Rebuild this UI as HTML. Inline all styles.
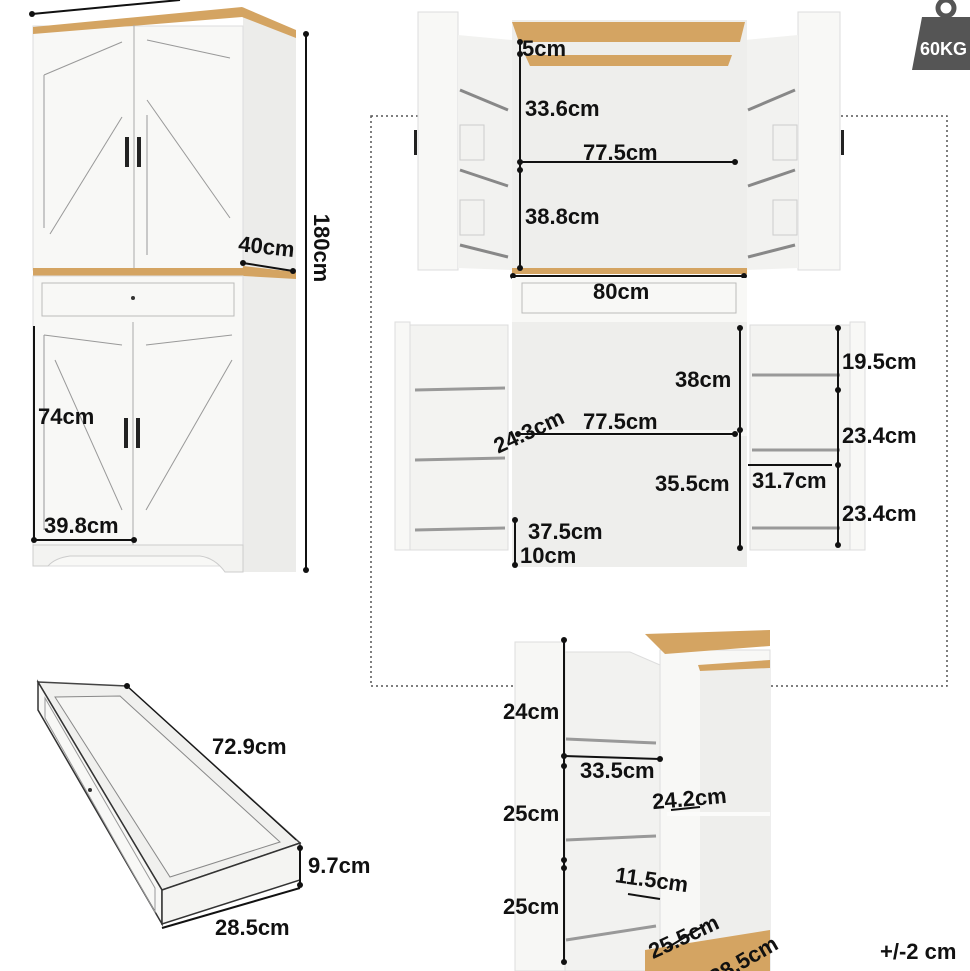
<!DOCTYPE html>
<html><head><meta charset="utf-8"><style>
html,body{margin:0;padding:0;background:#fff;width:970px;height:971px;overflow:hidden}
svg{display:block}
text{font-family:"Liberation Sans",sans-serif;font-weight:bold;font-size:22px;fill:#111}
</style></head><body>
<svg width="970" height="971" viewBox="0 0 970 971" xmlns="http://www.w3.org/2000/svg">
<defs>
<g id="dot"><circle r="3" fill="#111"/></g>
</defs>
<rect x="371" y="116" width="576" height="570" fill="none" stroke="#555" stroke-width="1.5" stroke-dasharray="2,3"/>

<!-- LEFT CABINET -->
<polygon points="243,7 296,36 296,270 243,268" fill="#ececea"/>
<polygon points="243,270 296,277 296,572 243,572" fill="#ececea"/>
<rect x="33" y="26" width="210" height="244" fill="#f8f8f6" stroke="#ddd"/>
<polygon points="33,27 242,7 242,17 33,34" fill="#d4a462"/>
<polygon points="242,7 296,30 296,38 242,17" fill="#d4a462"/>
<line x1="134" y1="25" x2="134" y2="268" stroke="#aaa"/>
<line x1="44" y1="75" x2="44" y2="228" stroke="#999"/>
<line x1="44" y1="75" x2="122" y2="42" stroke="#999"/>
<line x1="50" y1="234" x2="122" y2="117" stroke="#999"/>
<line x1="147" y1="40" x2="230" y2="58" stroke="#999"/>
<line x1="147" y1="100" x2="230" y2="218" stroke="#999"/>
<line x1="147" y1="115" x2="147" y2="255" stroke="#999"/>
<rect x="125" y="137" width="4" height="30" fill="#222"/>
<rect x="137" y="137" width="4" height="30" fill="#222"/>
<rect x="33" y="268" width="210" height="8" fill="#d4a462"/>
<polygon points="243,266 296,272 296,279 243,276" fill="#d4a462"/>
<rect x="33" y="276" width="210" height="290" fill="#f8f8f6" stroke="#ddd"/>
<rect x="42" y="283" width="192" height="33" fill="none" stroke="#bbb"/>
<circle cx="133" cy="298" r="2" fill="#333"/>
<line x1="133" y1="322" x2="133" y2="545" stroke="#aaa"/>
<line x1="44" y1="335" x2="44" y2="530" stroke="#999"/>
<line x1="44" y1="335" x2="122" y2="345" stroke="#999"/>
<line x1="55" y1="360" x2="122" y2="510" stroke="#999"/>
<line x1="146" y1="345" x2="232" y2="335" stroke="#999"/>
<line x1="146" y1="510" x2="232" y2="360" stroke="#999"/>
<rect x="124" y="418" width="4" height="30" fill="#222"/>
<rect x="136" y="418" width="4" height="30" fill="#222"/>
<path d="M33 545 H243 V572 H225 Q215 558 200 556 H70 Q55 558 48 566 H33 Z" fill="#f3f3f1" stroke="#ccc"/>
<line x1="32" y1="14" x2="180" y2="0" stroke="#111" stroke-width="2"/><use href="#dot" x="32" y="14"/>
<line x1="306" y1="34" x2="306" y2="570" stroke="#111" stroke-width="2"/><use href="#dot" x="306" y="34"/><use href="#dot" x="306" y="570"/>
<text x="312" y="250" transform="rotate(90 314 250)" text-anchor="middle">180cm</text>
<line x1="243" y1="263" x2="293" y2="271" stroke="#111" stroke-width="2"/><use href="#dot" x="243" y="263"/><use href="#dot" x="293" y="271"/>
<text x="238" y="254" transform="rotate(6 265 250)">40cm</text>
<line x1="34" y1="326" x2="34" y2="540" stroke="#111" stroke-width="2"/>
<text x="38" y="424">74cm</text>
<line x1="34" y1="540" x2="134" y2="540" stroke="#111" stroke-width="2"/><use href="#dot" x="34" y="540"/><use href="#dot" x="134" y="540"/>
<text x="44" y="533">39.8cm</text>

<!-- TOP RIGHT OPEN CABINET -->
<rect x="418" y="12" width="40" height="258" fill="#f8f8f6" stroke="#ddd"/>
<polygon points="458,35 512,40 512,270 458,268" fill="#f2f2f0"/>
<rect x="798" y="12" width="42" height="258" fill="#f8f8f6" stroke="#ddd"/>
<polygon points="745,40 798,35 798,268 745,270" fill="#f2f2f0"/>
<rect x="512" y="20" width="235" height="250" fill="#eeeeec"/>
<polygon points="512,22 745,22 740,42 519,42" fill="#d4a462"/>
<polygon points="525,55 732,55 728,66 530,66" fill="#d4a462"/>
<g stroke="#888" stroke-width="3">
<line x1="460" y1="90" x2="508" y2="110"/><line x1="460" y1="170" x2="508" y2="186"/><line x1="460" y1="245" x2="508" y2="257"/>
<line x1="795" y1="90" x2="748" y2="110"/><line x1="795" y1="170" x2="748" y2="186"/><line x1="795" y1="245" x2="748" y2="257"/>
</g>
<g stroke="#ccc" fill="none">
<rect x="460" y="125" width="24" height="35"/><rect x="460" y="200" width="24" height="35"/>
<rect x="773" y="125" width="24" height="35"/><rect x="773" y="200" width="24" height="35"/>
</g>
<rect x="414" y="130" width="3" height="25" fill="#222"/><rect x="841" y="130" width="3" height="25" fill="#222"/>
<rect x="512" y="268" width="235" height="6" fill="#d4a462"/>
<line x1="520" y1="42" x2="520" y2="268" stroke="#111" stroke-width="2"/>
<use href="#dot" x="520" y="42"/><use href="#dot" x="520" y="54"/><use href="#dot" x="520" y="162"/><use href="#dot" x="520" y="170"/><use href="#dot" x="520" y="268"/>
<line x1="520" y1="162" x2="735" y2="162" stroke="#111" stroke-width="2"/><use href="#dot" x="735" y="162"/>
<text x="522" y="56">5cm</text>
<text x="525" y="116">33.6cm</text>
<text x="583" y="160">77.5cm</text>
<text x="525" y="224">38.8cm</text>
<line x1="513" y1="276" x2="744" y2="276" stroke="#111" stroke-width="2"/><use href="#dot" x="513" y="276"/><use href="#dot" x="744" y="276"/>
<rect x="512" y="278" width="235" height="44" fill="#f8f8f6"/>
<rect x="522" y="283" width="214" height="30" fill="none" stroke="#bbb"/>
<text x="593" y="299">80cm</text>

<!-- MIDDLE LOWER OPEN CABINET -->
<rect x="395" y="322" width="15" height="228" fill="#f8f8f6" stroke="#ddd"/>
<rect x="410" y="325" width="98" height="225" fill="#f3f3f1" stroke="#ddd"/>
<rect x="850" y="322" width="15" height="228" fill="#f8f8f6" stroke="#ddd"/>
<rect x="750" y="325" width="100" height="225" fill="#f3f3f1" stroke="#ddd"/>
<rect x="512" y="322" width="235" height="245" fill="#eeeeec"/>
<rect x="512" y="430" width="235" height="6" fill="#f7f7f5"/>
<g stroke="#999" stroke-width="3">
<line x1="415" y1="390" x2="505" y2="388"/><line x1="415" y1="460" x2="505" y2="458"/><line x1="415" y1="530" x2="505" y2="528"/>
<line x1="752" y1="375" x2="840" y2="375"/><line x1="752" y1="450" x2="840" y2="450"/><line x1="752" y1="528" x2="840" y2="528"/>
</g>
<line x1="518" y1="434" x2="735" y2="434" stroke="#111" stroke-width="2"/><use href="#dot" x="518" y="434"/><use href="#dot" x="735" y="434"/>
<line x1="740" y1="328" x2="740" y2="548" stroke="#111" stroke-width="2"/><use href="#dot" x="740" y="328"/><use href="#dot" x="740" y="430"/><use href="#dot" x="740" y="548"/>
<line x1="838" y1="328" x2="838" y2="545" stroke="#111" stroke-width="2"/><use href="#dot" x="838" y="328"/><use href="#dot" x="838" y="390"/><use href="#dot" x="838" y="465"/><use href="#dot" x="838" y="545"/>
<line x1="748" y1="465" x2="832" y2="465" stroke="#111" stroke-width="2"/>
<line x1="515" y1="520" x2="515" y2="565" stroke="#111" stroke-width="2"/><use href="#dot" x="515" y="520"/><use href="#dot" x="515" y="565"/>
<text x="488" y="442" transform="rotate(-25 520 425)">24.3cm</text>
<text x="583" y="429">77.5cm</text>
<text x="675" y="387">38cm</text>
<text x="655" y="491">35.5cm</text>
<text x="752" y="488">31.7cm</text>
<text x="842" y="369">19.5cm</text>
<text x="842" y="443">23.4cm</text>
<text x="842" y="521">23.4cm</text>
<text x="528" y="539">37.5cm</text>
<text x="520" y="563">10cm</text>

<!-- WEIGHT -->
<circle cx="946" cy="8" r="8" fill="none" stroke="#555" stroke-width="5"/>
<polygon points="922,17 970,17 970,70 912,70" fill="#555"/>
<text x="920" y="55" style="fill:#fff;font-size:18px">60KG</text>

<!-- DRAWER -->
<polygon points="38,682 127,686 300,843 162,890" fill="#f0f0ee" stroke="#444" stroke-width="1.5"/>
<polygon points="55,697 120,696 280,842 170,877" fill="#f6f6f4" stroke="#888"/>
<polygon points="38,682 162,890 162,924 38,710" fill="#f8f8f6" stroke="#333" stroke-width="1.5"/>
<polygon points="45,698 155,888 155,912 45,718" fill="none" stroke="#999"/>
<polygon points="162,890 300,843 300,880 162,924" fill="#f4f4f2" stroke="#333" stroke-width="1.5"/>
<circle cx="90" cy="790" r="2" fill="#333"/>
<line x1="127" y1="686" x2="296" y2="840" stroke="#111" stroke-width="1"/>
<use href="#dot" x="127" y="686"/>
<text x="212" y="754">72.9cm</text>
<line x1="300" y1="848" x2="300" y2="885" stroke="#111" stroke-width="2"/><use href="#dot" x="300" y="848"/><use href="#dot" x="300" y="885"/>
<text x="308" y="873">9.7cm</text>
<line x1="162" y1="928" x2="300" y2="888" stroke="#111" stroke-width="2"/>
<text x="215" y="935">28.5cm</text>

<!-- BOTTOM SIDE VIEW -->
<rect x="515" y="642" width="50" height="329" fill="#f7f7f5" stroke="#ddd"/>
<polygon points="565,652 630,652 660,665 660,971 565,971" fill="#f2f2f0" stroke="#ddd"/>
<rect x="660" y="650" width="110" height="321" fill="#f8f8f6" stroke="#ddd"/>
<rect x="700" y="668" width="70" height="303" fill="#eeeeec"/>
<polygon points="645,634 770,630 770,646 665,654" fill="#d4a462"/>
<polygon points="698,665 770,660 770,668 700,671" fill="#d4a462"/>
<rect x="667" y="812" width="103" height="4" fill="#fbfbfa"/>
<polygon points="645,950 770,930 770,971 645,971" fill="#d4a462"/>
<g stroke="#999" stroke-width="3">
<line x1="566" y1="739" x2="656" y2="743"/><line x1="566" y1="840" x2="656" y2="836"/><line x1="566" y1="940" x2="656" y2="926"/>
</g>
<line x1="564" y1="640" x2="564" y2="962" stroke="#111" stroke-width="2"/>
<use href="#dot" x="564" y="640"/><use href="#dot" x="564" y="756"/><use href="#dot" x="564" y="766"/><use href="#dot" x="564" y="860"/><use href="#dot" x="564" y="868"/><use href="#dot" x="564" y="962"/>
<line x1="564" y1="756" x2="660" y2="759" stroke="#111" stroke-width="2"/><use href="#dot" x="660" y="759"/>
<line x1="671" y1="810" x2="700" y2="807" stroke="#111" stroke-width="2"/>
<line x1="628" y1="894" x2="660" y2="899" stroke="#111" stroke-width="2"/>
<line x1="667" y1="948" x2="705" y2="925" stroke="#111" stroke-width="2"/>
<text x="503" y="719">24cm</text>
<text x="503" y="821">25cm</text>
<text x="503" y="914">25cm</text>
<text x="580" y="778">33.5cm</text>
<text x="652" y="806" transform="rotate(-5 690 798)">24.2cm</text>
<text x="615" y="887" transform="rotate(8 650 880)">11.5cm</text>
<text x="643" y="946" transform="rotate(-25 678 930)">25.5cm</text>
<text x="705" y="972" transform="rotate(-30 735 960)">28.5cm</text>
<text x="880" y="959">+/-2 cm</text>
</svg>
</body></html>
